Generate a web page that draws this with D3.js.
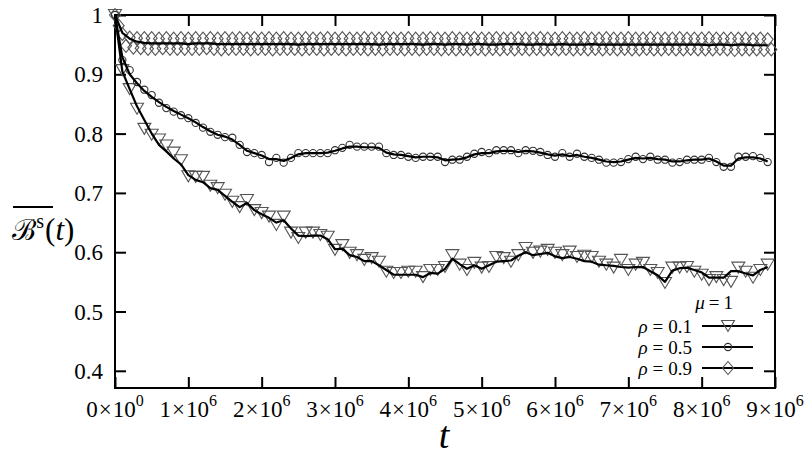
<!DOCTYPE html>
<html>
<head>
<meta charset="utf-8">
<script src="https://cdn.jsdelivr.net/npm/d3@7"></script>
<style>
  body { margin: 0; background: #fff; }
  text { fill: #000; }
</style>
</head>
<body>
<svg id="chart" width="811" height="458"></svg>
<script>
// sample times, in units of 10^6
var tMillions = [
  0.0, 0.1, 0.2, 0.3, 0.4, 0.5, 0.6, 0.7, 0.8, 0.9,
  1.0, 1.1, 1.2, 1.3, 1.4, 1.5, 1.6, 1.7, 1.8, 1.9,
  2.0, 2.1, 2.2, 2.3, 2.4, 2.5, 2.6, 2.7, 2.8, 2.9,
  3.0, 3.1, 3.2, 3.3, 3.4, 3.5, 3.6, 3.7, 3.8, 3.9,
  4.0, 4.1, 4.2, 4.3, 4.4, 4.5, 4.6, 4.7, 4.8, 4.9,
  5.0, 5.1, 5.2, 5.3, 5.4, 5.5, 5.6, 5.7, 5.8, 5.9,
  6.0, 6.1, 6.2, 6.3, 6.4, 6.5, 6.6, 6.7, 6.8, 6.9,
  7.0, 7.1, 7.2, 7.3, 7.4, 7.5, 7.6, 7.7, 7.8, 7.9,
  8.0, 8.1, 8.2, 8.3, 8.4, 8.5, 8.6, 8.7, 8.8, 8.9
];

// rho = 0.1 : raw points (triangles) and averaged curve
var rho01Points = [
  1.000, 0.907, 0.875, 0.842, 0.808, 0.798, 0.790, 0.780, 0.768, 0.755,
  0.728, 0.727, 0.727, 0.712, 0.708, 0.697, 0.685, 0.676, 0.688, 0.671,
  0.666, 0.660, 0.646, 0.660, 0.633, 0.624, 0.633, 0.633, 0.629, 0.626,
  0.604, 0.612, 0.599, 0.595, 0.587, 0.590, 0.584, 0.567, 0.565, 0.565,
  0.567, 0.567, 0.558, 0.570, 0.570, 0.575, 0.595, 0.579, 0.570, 0.582,
  0.574, 0.575, 0.592, 0.590, 0.584, 0.595, 0.607, 0.599, 0.601, 0.604,
  0.599, 0.595, 0.601, 0.592, 0.594, 0.592, 0.584, 0.579, 0.574, 0.587,
  0.570, 0.579, 0.582, 0.570, 0.565, 0.548, 0.574, 0.574, 0.575, 0.567,
  0.562, 0.553, 0.558, 0.553, 0.550, 0.574, 0.567, 0.557, 0.570, 0.579
];
var rho01Curve = [
  1.000, 0.905, 0.875, 0.846, 0.823, 0.800, 0.781, 0.770, 0.758, 0.748,
  0.730, 0.722, 0.718, 0.708, 0.705, 0.695, 0.685, 0.676, 0.683, 0.671,
  0.664, 0.658, 0.650, 0.654, 0.640, 0.628, 0.627, 0.628, 0.628, 0.622,
  0.605, 0.606, 0.595, 0.592, 0.585, 0.585, 0.578, 0.570, 0.562, 0.562,
  0.562, 0.562, 0.558, 0.565, 0.564, 0.572, 0.589, 0.580, 0.572, 0.578,
  0.572, 0.578, 0.584, 0.585, 0.586, 0.594, 0.600, 0.595, 0.597, 0.599,
  0.593, 0.590, 0.592, 0.589, 0.585, 0.584, 0.579, 0.578, 0.577, 0.575,
  0.574, 0.575, 0.575, 0.568, 0.561, 0.550, 0.569, 0.573, 0.574, 0.570,
  0.566, 0.557, 0.557, 0.557, 0.568, 0.568, 0.564, 0.561, 0.570, 0.575
];

// rho = 0.5 : raw points (circles) and averaged curve
var rho05Points = [
  1.000, 0.924, 0.907, 0.887, 0.874, 0.865, 0.852, 0.843, 0.837, 0.831,
  0.826, 0.818, 0.810, 0.803, 0.798, 0.794, 0.793, 0.781, 0.769, 0.767,
  0.764, 0.752, 0.759, 0.751, 0.759, 0.767, 0.767, 0.767, 0.767, 0.767,
  0.772, 0.776, 0.781, 0.778, 0.778, 0.778, 0.778, 0.767, 0.764, 0.764,
  0.761, 0.759, 0.761, 0.761, 0.761, 0.752, 0.756, 0.756, 0.761, 0.766,
  0.769, 0.767, 0.772, 0.772, 0.772, 0.767, 0.772, 0.771, 0.769, 0.764,
  0.761, 0.767, 0.761, 0.766, 0.761, 0.759, 0.756, 0.751, 0.751, 0.752,
  0.757, 0.761, 0.757, 0.761, 0.756, 0.756, 0.751, 0.752, 0.756, 0.756,
  0.756, 0.759, 0.752, 0.744, 0.744, 0.761, 0.761, 0.762, 0.759, 0.752
];
var rho05Curve = [
  1.000, 0.929, 0.900, 0.885, 0.872, 0.862, 0.853, 0.845, 0.838, 0.832,
  0.826, 0.819, 0.811, 0.804, 0.798, 0.795, 0.790, 0.781, 0.771, 0.767,
  0.763, 0.757, 0.757, 0.754, 0.759, 0.765, 0.767, 0.767, 0.767, 0.768,
  0.771, 0.775, 0.778, 0.778, 0.777, 0.777, 0.776, 0.768, 0.765, 0.764,
  0.762, 0.760, 0.761, 0.761, 0.760, 0.755, 0.756, 0.757, 0.760, 0.765,
  0.767, 0.767, 0.770, 0.771, 0.771, 0.769, 0.771, 0.770, 0.768, 0.765,
  0.763, 0.765, 0.762, 0.764, 0.761, 0.759, 0.756, 0.753, 0.752, 0.753,
  0.756, 0.759, 0.758, 0.759, 0.757, 0.756, 0.753, 0.753, 0.755, 0.756,
  0.756, 0.758, 0.753, 0.746, 0.746, 0.758, 0.760, 0.760, 0.758, 0.753
];

// rho = 0.9 : raw points (diamonds), two samples per 10^5 step (at t and t + 0.05), and averaged curve
var rho09Points = [
  1.000, 0.982, 0.968, 0.948, 0.962, 0.945, 0.961, 0.944, 0.961, 0.943,
  0.961, 0.943, 0.960, 0.944, 0.961, 0.943, 0.960, 0.943, 0.961, 0.943,
  0.960, 0.943, 0.961, 0.943, 0.960, 0.944, 0.961, 0.943, 0.960, 0.942,
  0.961, 0.943, 0.960, 0.943, 0.961, 0.943, 0.960, 0.942, 0.961, 0.943,
  0.960, 0.943, 0.961, 0.942, 0.960, 0.943, 0.961, 0.943, 0.960, 0.943,
  0.960, 0.942, 0.961, 0.943, 0.960, 0.943, 0.960, 0.942, 0.961, 0.943,
  0.960, 0.943, 0.961, 0.942, 0.960, 0.943, 0.960, 0.943, 0.961, 0.942,
  0.960, 0.943, 0.960, 0.942, 0.961, 0.943, 0.960, 0.943, 0.960, 0.942,
  0.961, 0.943, 0.960, 0.942, 0.960, 0.943, 0.961, 0.943, 0.960, 0.942,
  0.960, 0.943, 0.961, 0.942, 0.960, 0.943, 0.960, 0.942, 0.961, 0.943,
  0.960, 0.942, 0.960, 0.943, 0.961, 0.942, 0.960, 0.943, 0.960, 0.942,
  0.961, 0.943, 0.960, 0.942, 0.960, 0.943, 0.961, 0.942, 0.960, 0.943,
  0.960, 0.942, 0.961, 0.943, 0.960, 0.942, 0.960, 0.943, 0.961, 0.942,
  0.960, 0.943, 0.960, 0.942, 0.961, 0.943, 0.960, 0.942, 0.960, 0.943,
  0.961, 0.942, 0.960, 0.942, 0.960, 0.943, 0.961, 0.942, 0.960, 0.942,
  0.960, 0.943, 0.960, 0.942, 0.961, 0.942, 0.960, 0.943, 0.960, 0.942,
  0.960, 0.942, 0.961, 0.942, 0.960, 0.943, 0.960, 0.942, 0.960, 0.941,
  0.960, 0.942, 0.960, 0.942, 0.959, 0.942, 0.960, 0.941, 0.959, 0.942
];
var rho09Curve = [
  1.000, 0.970, 0.960, 0.955, 0.953, 0.952, 0.952, 0.952, 0.952, 0.952,
  0.951, 0.952, 0.952, 0.952, 0.951, 0.951, 0.951, 0.951, 0.951, 0.951,
  0.951, 0.951, 0.951, 0.951, 0.951, 0.950, 0.951, 0.951, 0.951, 0.951,
  0.951, 0.951, 0.951, 0.951, 0.951, 0.951, 0.950, 0.951, 0.951, 0.951,
  0.951, 0.951, 0.950, 0.951, 0.951, 0.950, 0.951, 0.951, 0.950, 0.951,
  0.951, 0.950, 0.950, 0.951, 0.951, 0.951, 0.950, 0.950, 0.951, 0.950,
  0.950, 0.951, 0.950, 0.950, 0.950, 0.951, 0.950, 0.950, 0.950, 0.950,
  0.950, 0.950, 0.950, 0.950, 0.950, 0.950, 0.950, 0.950, 0.950, 0.950,
  0.950, 0.949, 0.950, 0.950, 0.949, 0.950, 0.950, 0.949, 0.949, 0.949
];

var xTicks = [0, 1e6, 2e6, 3e6, 4e6, 5e6, 6e6, 7e6, 8e6, 9e6];
var yTicks = [0.4, 0.5, 0.6, 0.7, 0.8, 0.9, 1.0];
var legendTitle = '1';
var legendLabels = ['0.1', '0.5', '0.9'];

var svg = d3.select('#chart'),
    margin = {top: 15, right: 36, bottom: 70, left: 115},
    width = +svg.attr('width') - margin.left - margin.right,
    height = +svg.attr('height') - margin.top - margin.bottom,
    g = svg.append('g').attr('transform', 'translate(' + margin.left + ',' + margin.top + ')');

var x = d3.scaleLinear().domain([0, 9e6]).range([0, width]);
var y = d3.scaleLinear().domain([0.371, 1.0]).range([height, 0]);

var serif = "'Liberation Serif', 'DejaVu Serif', 'Noto Serif', 'Times New Roman', serif";

// symbols
var triangle = 'M-6.5,-5.5L6.5,-5.5L0,5.5Z';
var diamond = 'M0,-6.5L5.5,0L0,6.5L-5.5,0Z';

function pairs(vals, times) {
  return vals.map(function (v, i) { return {t: times[i] * 1e6, v: v}; });
}

// the rho = 0.9 points come twice per step
var tHalfSteps = [];
tMillions.forEach(function (t) { tHalfSteps.push(t, t + 0.05); });

var series = [
  {points: pairs(rho01Points, tMillions), curve: pairs(rho01Curve, tMillions), mark: 'tri'},
  {points: pairs(rho05Points, tMillions), curve: pairs(rho05Curve, tMillions), mark: 'circ'},
  {points: pairs(rho09Points, tHalfSteps), curve: pairs(rho09Curve, tMillions), mark: 'dia'}
];

// axes with inward ticks on all four sides
function styleAxis(sel) {
  sel.select('.domain').remove();
  sel.selectAll('.tick line').attr('stroke', '#000').attr('stroke-width', 2);
  sel.selectAll('text').remove();
}

g.append('g').attr('class', 'x axis')
    .attr('transform', 'translate(0,' + height + ')')
    .call(d3.axisBottom(x).tickValues(xTicks).tickSizeInner(-11).tickSizeOuter(0))
    .call(styleAxis);
g.append('g').attr('class', 'x2 axis')
    .call(d3.axisTop(x).tickValues(xTicks).tickSizeInner(-11).tickSizeOuter(0))
    .call(styleAxis);
g.append('g').attr('class', 'y axis')
    .call(d3.axisLeft(y).tickValues(yTicks).tickSizeInner(-11).tickSizeOuter(0))
    .call(styleAxis);
g.append('g').attr('class', 'y2 axis')
    .attr('transform', 'translate(' + width + ',0)')
    .call(d3.axisRight(y).tickValues(yTicks).tickSizeInner(-11).tickSizeOuter(0))
    .call(styleAxis);

g.append('rect')
    .attr('width', width)
    .attr('height', height)
    .attr('fill', 'none')
    .attr('stroke', '#000')
    .attr('stroke-width', 2);

// tick labels
g.append('g').selectAll('text')
    .data(yTicks)
    .enter().append('text')
    .attr('x', -12)
    .attr('y', function (d) { return y(d) + 8; })
    .attr('text-anchor', 'end')
    .attr('font-family', serif)
    .attr('font-size', 23)
    .text(function (d) { return d === 1 ? '1' : d.toFixed(1); });

var xl = g.append('g').selectAll('text')
    .data(xTicks)
    .enter().append('text')
    .attr('x', function (d) { return x(d); })
    .attr('y', height + 29)
    .attr('text-anchor', 'middle')
    .attr('font-family', serif)
    .attr('font-size', 23);
xl.append('tspan').text(function (d) { return d / 1e6; });
xl.append('tspan').attr('dx', 1).text('×');
xl.append('tspan').attr('dx', 1).text('10');
xl.append('tspan').attr('dy', -11).attr('font-size', 16)
    .text(function (d) { return d === 0 ? '0' : '6'; });

// axis titles
g.append('text')
    .attr('x', 444 - margin.left)
    .attr('y', 448 - margin.top)
    .attr('text-anchor', 'middle')
    .attr('font-family', serif)
    .attr('font-size', 38)
    .attr('font-style', 'italic')
    .text('t');

var yl = svg.append('text')
    .attr('x', 12)
    .attr('y', 240)
    .attr('font-family', serif)
    .attr('font-size', 31);
yl.append('tspan').attr('font-size', 29).text('ℬ');
yl.append('tspan').attr('dy', -12).attr('font-size', 20).text('s');
yl.append('tspan').attr('dy', 12).attr('dx', 1).text('(');
yl.append('tspan').attr('font-style', 'italic').text('t');
yl.append('tspan').text(')');
svg.append('line')
    .attr('x1', 13).attr('x2', 53)
    .attr('y1', 207).attr('y2', 207)
    .attr('stroke', '#000').attr('stroke-width', 2);

// raw points
function drawMark(sel, kind) {
  if (kind === 'circ') {
    sel.append('circle').attr('r', 3.6)
        .attr('fill', 'none').attr('stroke', '#333').attr('stroke-width', 1.1);
  } else {
    sel.append('path').attr('d', kind === 'tri' ? triangle : diamond)
        .attr('fill', 'none').attr('stroke', '#555').attr('stroke-width', 1.1);
  }
}

series.forEach(function (s) {
  var pts = g.append('g').attr('class', 'dots')
      .selectAll('g')
      .data(s.points)
      .enter().append('g')
      .attr('transform', function (d) { return 'translate(' + x(d.t) + ',' + y(d.v) + ')'; });
  drawMark(pts, s.mark);
});

var line = d3.line()
    .x(function (d) { return x(d.t); })
    .y(function (d) { return y(d.v); });

series.forEach(function (s) {
  g.append('path')
      .datum(s.curve)
      .attr('fill', 'none')
      .attr('stroke', '#000')
      .attr('stroke-width', 2.2)
      .attr('stroke-linejoin', 'round')
      .attr('d', line);
});

// key
var key = svg.append('g').attr('class', 'key');
var kt = key.append('text')
    .attr('x', 733).attr('y', 309)
    .attr('text-anchor', 'end')
    .attr('font-family', serif)
    .attr('font-size', 19);
kt.append('tspan').attr('font-style', 'italic').text('μ');
kt.append('tspan').attr('dx', 4).text('=');
kt.append('tspan').attr('dx', 4).text(legendTitle);

legendLabels.forEach(function (lab, i) {
  var ly = 326 + i * 21;
  var t = key.append('text')
      .attr('x', 692).attr('y', ly + 7)
      .attr('text-anchor', 'end')
      .attr('font-family', serif)
      .attr('font-size', 19);
  t.append('tspan').attr('font-style', 'italic').text('ρ');
  t.append('tspan').attr('dx', 5).text('=');
  t.append('tspan').attr('dx', 5).text(lab);
  key.append('line')
      .attr('x1', 702).attr('x2', 753)
      .attr('y1', ly).attr('y2', ly)
      .attr('stroke', '#000').attr('stroke-width', 2.2);
  var m = key.append('g').attr('transform', 'translate(728,' + ly + ')');
  drawMark(m, series[i].mark);
});
</script>
</body>
</html>
